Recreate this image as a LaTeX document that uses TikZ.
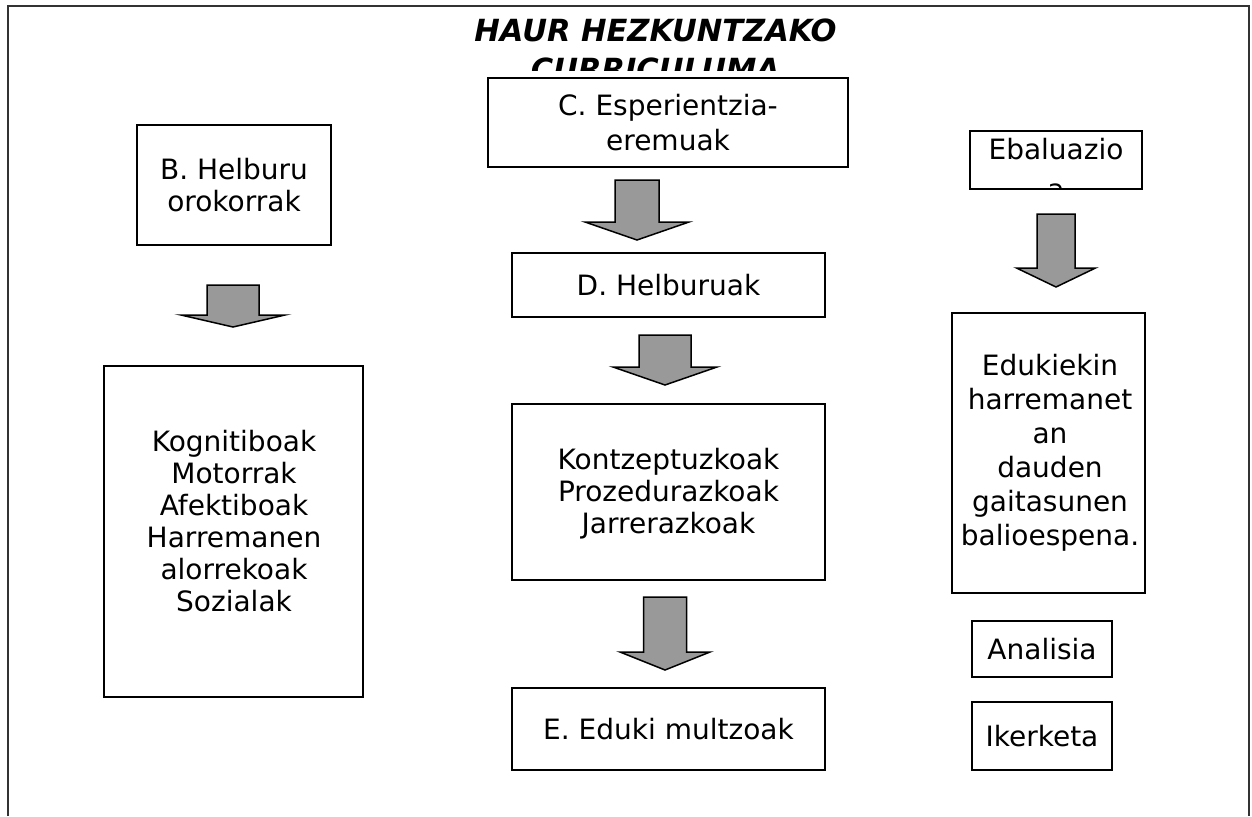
\documentclass[tikz,border=0pt]{standalone}
\usepackage{fontspec}
\setmainfont{DejaVu Sans}
\definecolor{arrowgray}{HTML}{999999}
\definecolor{framegray}{HTML}{333333}
\newcommand{\myblockarrow}[6]{%
  \draw[blk] (#1-#3,#2) -- (#1+#3,#2) -- (#1+#3,#4) -- (#1+#5,#4) -- (#1,#6)
    -- (#1-#5,#4) -- (#1-#3,#4) -- cycle;}
\begin{document}
\begin{tikzpicture}[x=1pt,y=-1pt,
  box/.style={draw=black, line width=1.6pt, inner sep=0pt, fill=white},
  txt/.style={align=center, inner sep=0pt, font=\fontsize{28}{32}\selectfont},
  ttl/.style={inner sep=0pt, anchor=base, font=\fontsize{30.5}{38}\selectfont\bfseries\itshape},
  blk/.style={draw=black, line width=1.5pt, fill=arrowgray, line join=miter},
]
\useasboundingbox (0,0) rectangle (1252,816);
% outer frame
\draw[line width=2.5pt, draw=framegray] (8,816) -- (8,6) -- (1249,6) -- (1249,816);

% title (second line clipped)
\begin{scope}
  \clip (300,0) rectangle (1000,70);
  \node[ttl] (title1) at (655.5,42) {HAUR HEZKUNTZAKO};
  \node[ttl] (title2) at (655.5,80) {CURRICULUMA};
\end{scope}

% left column
\node[box, minimum width=194pt, minimum height=120pt, txt] (B) at (234,185) {B. Helburu\\orokorrak};
\myblockarrow{233}{285}{26}{315}{52}{327}
\node[box, minimum width=259pt, minimum height=331pt] (KL) at (233.5,531.5) {};
\node[txt] (KLt) at (234,521) {Kognitiboak\\Motorrak\\Afektiboak\\Harremanen\\alorrekoak\\Sozialak};

% middle column
\node[box, minimum width=360pt, minimum height=89pt, txt, font=\fontsize{28}{35}\selectfont] (C) at (668,122.5) {C. Esperientzia-\\eremuak};
\myblockarrow{637}{180}{22}{222}{52}{240}
\node[box, minimum width=313pt, minimum height=64pt, txt] (D) at (668.5,285) {D. Helburuak};
\myblockarrow{665}{335}{26}{367}{52}{385}
\node[box, minimum width=313pt, minimum height=176pt] (KM) at (668.5,492) {};
\node[txt] (KMt) at (668.5,494) {Kontzeptuzkoak\\Prozedurazkoak\\Jarrerazkoak};
\myblockarrow{665}{597}{21.5}{652}{45}{670}
\node[box, minimum width=313pt, minimum height=82pt, txt] (E) at (668.5,729) {E. Eduki multzoak};

% right column
\node[box, minimum width=172pt, minimum height=58pt] (EB) at (1056,160) {};
\begin{scope}
  \clip (971,132) rectangle (1141,188);
  \node[txt, anchor=base] (EBt1) at (1056,159) {Ebaluazio};
  \node[txt, anchor=base] (EBt2) at (1056,199) {a};
\end{scope}
\myblockarrow{1056}{214}{19}{268}{39.5}{287}
\node[box, minimum width=193pt, minimum height=280pt] (ED) at (1048.5,453) {};
\node[txt, font=\fontsize{28}{34}\selectfont] (EDt) at (1050,453) {Edukiekin\\harremanet\\an\\dauden\\gaitasunen\\balioespena.};
\node[box, minimum width=140pt, minimum height=56pt, txt] (AN) at (1042,649) {Analisia};
\node[box, minimum width=140pt, minimum height=68pt, txt] (IK) at (1042,736) {Ikerketa};
\end{tikzpicture}
\end{document}
